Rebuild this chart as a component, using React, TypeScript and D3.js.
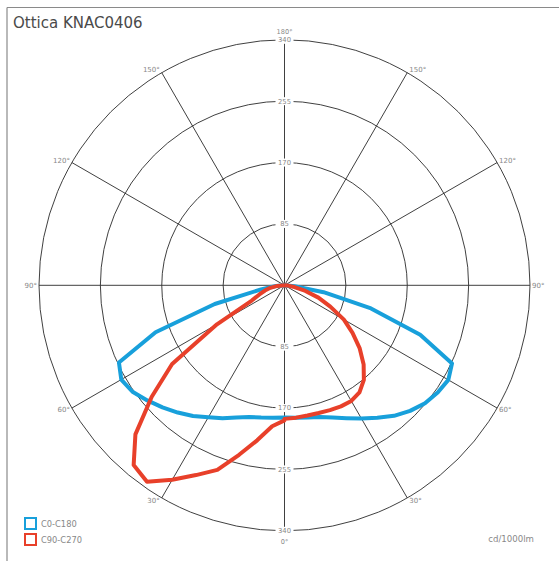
import * as d3 from 'd3';

// gamma angles (deg from nadir) shared by all half-planes
const gammas = [0, 5, 10, 15, 20, 25, 30, 35, 40, 45, 50, 55, 60, 65, 70, 75, 80, 85, 90];

// C0-C180 plane (cd/1000lm)
const c0 = [183, 184, 186, 189, 195, 203, 213, 224, 236, 246, 254, 259, 262, 256, 200, 124, 55, 14, 0];
const c180 = [183, 184, 186, 189, 195, 203, 211, 221, 230, 239, 248, 257, 261, 253, 190, 100, 33, 12, 0];

// C90-C270 plane
const c90 = [185, 184, 183, 183, 184, 185, 185, 181, 171, 155, 136, 115, 95, 70, 50, 30, 14, 5, 0];
const c270 = [187, 196, 218, 243, 272, 290, 311, 332, 325, 292, 240, 190, 108, 50, 37, 28, 20, 10, 0];

const ringValues = [85, 170, 255, 340];
const spokeAngles = [0, 30, 60, 90, 120, 150];
const angleLabels = [30, 60, 90, 120, 150];

const seriesNames = ['C0-C180', 'C90-C270'];
const seriesColors = ['#18a0db', '#e8402a'];

const W = 559;
const H = 561;
const cx = 284.5;
const cy = 285.3;
const R = 245.5;
const font = '"DejaVu Sans", sans-serif';

const rScale = d3.scaleLinear().domain([0, 340]).range([0, R]);
const toRad = (g: number) => (g * Math.PI) / 180;

// right half: gamma 90 -> 0, left half: gamma 0 -> 90
function buildPoints(right: number[], left: number[]) {
  const pts: [number, number][] = [];
  for (let i = gammas.length - 1; i >= 0; i--) pts.push([Math.PI - toRad(gammas[i]), rScale(right[i])]);
  for (let i = 0; i < gammas.length; i++) pts.push([Math.PI + toRad(gammas[i]), rScale(left[i])]);
  return pts;
}

const radial = d3.lineRadial<[number, number]>()
  .angle(d => d[0])
  .radius(d => d[1])
  .curve(d3.curveLinear);

const series = [buildPoints(c0, c180), buildPoints(c90, c270)];

export default function App() {
  return (
    <svg width={W} height={H} style={{ position: 'absolute', left: 0, top: 0, background: '#fff' }}>
      {/* frame */}
      <line x1={7} y1={7.5} x2={W} y2={7.5} stroke="#8a8a8a" strokeWidth={1.2} />
      <line x1={7} y1={7.5} x2={7} y2={H} stroke="#8a8a8a" strokeWidth={1.2} />
      <text x={13} y={28} fontFamily={font} fontSize={15} fill="#4a4a4a">Ottica KNAC0406</text>

      <g transform={`translate(${cx},${cy})`}>
        {ringValues.map(v => (
          <circle key={v} r={rScale(v)} fill="none" stroke="#2a2a2a" strokeWidth={0.9} />
        ))}
        {spokeAngles.map(g => {
          const dx = R * Math.sin(toRad(g));
          const dy = R * Math.cos(toRad(g));
          return <line key={g} x1={-dx} y1={-dy} x2={dx} y2={dy} stroke="#2a2a2a" strokeWidth={0.9} />;
        })}

        {/* radial value labels on the vertical axis */}
        {ringValues.flatMap(v => [-1, 1].map(s => (
          <g key={`${v}${s}`} transform={`translate(0,${s * rScale(v)})`}>
            <rect x={-9} y={-4} width={18} height={8} fill="#fff" />
            <text y={2.4} textAnchor="middle" fontFamily={font} fontSize={6.8} fill="#888">{v}</text>
          </g>
        )))}
        <text y={-R - 5.5} textAnchor="middle" fontFamily={font} fontSize={6.6} fill="#888">180°</text>
        <text y={R + 13} textAnchor="middle" fontFamily={font} fontSize={6.6} fill="#888">0°</text>

        {/* angle labels on the outer circle */}
        {angleLabels.flatMap(g => [-1, 1].map(s => {
          const ex = s * R * Math.sin(toRad(g));
          const ey = R * Math.cos(toRad(g));
          return (
            <text key={`${g}${s}`} x={ex + s * 2} y={ey + 2.5 + 3.5 * Math.cos(toRad(g))}
              textAnchor={s < 0 ? 'end' : 'start'} fontFamily={font} fontSize={7} fill="#888">{g}°</text>
          );
        }))}

        {series.map((pts, i) => (
          <path key={i} d={radial(pts) ?? ''} fill="none" stroke={seriesColors[i]}
            strokeWidth={4} strokeLinejoin="round" />
        ))}
      </g>

      {/* legend */}
      {seriesNames.map((name, i) => (
        <g key={name} transform={`translate(25,${518 + i * 16})`}>
          <rect x={0} y={0} width={11} height={11} fill="#fff" stroke={seriesColors[i]} strokeWidth={2} />
          <text x={16} y={8.5} fontFamily={font} fontSize={8.3} fill="#888">{name}</text>
        </g>
      ))}
      <text x={534} y={542} textAnchor="end" fontFamily={font} fontSize={8.6} fill="#888">cd/1000lm</text>
    </svg>
  );
}
